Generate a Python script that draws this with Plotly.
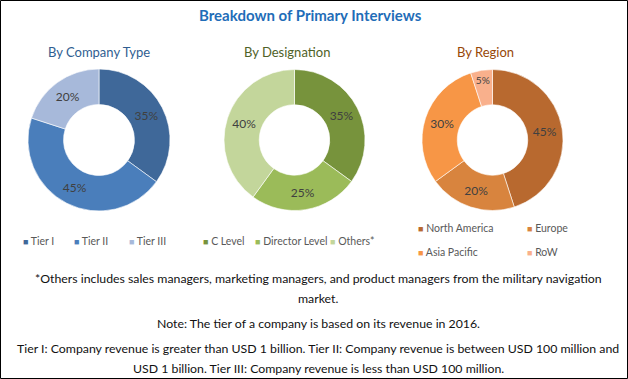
import plotly.graph_objects as go

W, H = 628, 379

# ---- data ----
company_labels = ["Tier I", "Tier II", "Tier III"]
company_values = [35, 45, 20]
designation_labels = ["C Level", "Director Level", "Others*"]
designation_values = [35, 25, 40]
region_labels = ["North America", "Europe", "Asia Pacific", "RoW"]
region_values = [45, 20, 30, 5]

company_colors = ["#3F6899", "#4A7EBB", "#A7B9DA"]
designation_colors = ["#77933C", "#9BBB59", "#C3D69B"]
region_colors = ["#B8692F", "#D8843E", "#F79646", "#F9B08C"]

title_text = "Breakdown of Primary Interviews"
subtitles = ["By Company Type", "By Designation", "By Region"]
subtitle_colors = ["#2F5E91", "#4F6228", "#984807"]
footnotes = [
    "*Others includes sales managers, marketing managers, and product managers from the military navigation",
    "market.",
    "Note: The tier of a company is based on its revenue in 2016.",
    "Tier I: Company revenue is greater than USD 1 billion. Tier II: Company revenue is between USD 100 million and",
    "USD 1 billion. Tier III: Company revenue is less than USD 100 million.",
]

FONT = "Lato, 'Open Sans', sans-serif"

def px_x(x):
    return x / W

def px_y(y):
    return 1 - y / H

fig = go.Figure()

pies = [
    (company_labels, company_values, company_colors, (28, 170)),
    (designation_labels, designation_values, designation_colors, (224, 365)),
    (region_labels, region_values, region_colors, (422, 563)),
]
for labels, values, colors, (x0, x1) in pies:
    fig.add_trace(go.Pie(
        labels=labels, values=values, sort=False, direction="clockwise",
        rotation=0, hole=0.5,
        marker=dict(colors=colors, line=dict(color="white", width=0.6)),
        texttemplate="%{value}%", textposition="inside",
        insidetextorientation="horizontal",
        textfont=dict(family=FONT, size=12, color="#404040"),
        domain=dict(x=[px_x(x0), px_x(x1)], y=[px_y(211), px_y(69)]),
        showlegend=False, hoverinfo="label+percent",
    ))

annotations = []
# Title
annotations.append(dict(text=f"<b>{title_text}</b>", x=px_x(310), y=px_y(15),
                        xref="paper", yref="paper", showarrow=False,
                        font=dict(family=FONT, size=15, color="#1F6DB8"),
                        xanchor="center", yanchor="middle"))
# Subtitles
for t, c, cx in zip(subtitles, subtitle_colors, [99, 287, 485]):
    annotations.append(dict(text=t, x=px_x(cx), y=px_y(52), xref="paper", yref="paper",
                            showarrow=False, font=dict(family=FONT, size=13, color=c),
                            xanchor="center", yanchor="middle"))

# Legends (drawn as text)
def legend_items(labels, colors, xs, ys):
    for lab, col, x, y in zip(labels, colors, xs, ys):
        annotations.append(dict(
            text=f'<span style="color:{col};font-size:9px">■</span> {lab}',
            x=px_x(x), y=px_y(y), xref="paper", yref="paper", showarrow=False,
            font=dict(family=FONT, size=10.5, color="#595959"),
            xanchor="left", yanchor="middle"))

legend_items(company_labels, company_colors, [21, 72, 127], [241, 241, 241])
legend_items(designation_labels, designation_colors, [201, 253, 328], [241, 241, 241])
legend_items(region_labels, region_colors, [416, 525, 416, 525], [228, 228, 252, 252])

# Footnotes
for t, y in zip(footnotes, [278, 298, 323, 348, 368]):
    annotations.append(dict(text=t, x=px_x(318), y=px_y(y), xref="paper", yref="paper",
                            showarrow=False, font=dict(family=FONT, size=12.3, color="#111111"),
                            xanchor="center", yanchor="middle"))

fig.update_layout(
    width=W, height=H, margin=dict(l=0, r=0, t=0, b=0),
    paper_bgcolor="white", plot_bgcolor="white",
    annotations=annotations,
    shapes=[dict(type="rect", xref="paper", yref="paper",
                 x0=0.5 / W, x1=1 - 0.5 / W, y0=0.5 / H, y1=1 - 0.5 / H,
                 line=dict(color="black", width=1))],
)

fig.write_html("out.html", config={"displayModeBar": False},
               post_script="document.body.style.margin='0px';document.body.style.padding='0px';")
